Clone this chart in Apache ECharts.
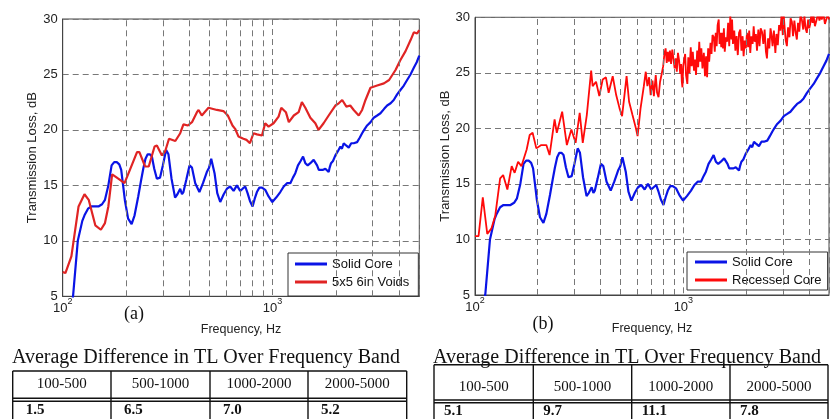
<!DOCTYPE html>
<html><head><meta charset="utf-8">
<script src="https://cdn.jsdelivr.net/npm/echarts@6/dist/echarts.min.js"></script>
<style>html,body{margin:0;padding:0;background:#fff}#c{width:832px;height:419px}</style>
</head><body><div id="c"></div>
<script>
// ---------------- DATA ----------------
const solidFreq = [108,112,118,124,127,132,137,148,154,159,165,171,176,181,186,190,194,198,205,213,220,229,236,242,248,254,260,266,273,281,291,300,311,319,330,343,352,363,370,376,388,402,413,428,448,466,486,498,510,529,545,563,585,606,628,652,676,701,720,741,760,780,803,822,842,865,890,922,957,997,1040,1088,1130,1171,1215,1250,1283,1321,1360,1397,1432,1470,1513,1569,1629,1660,1689,1740,1784,1850,1870,1899,1940,1991,2050,2104,2140,2182,2240,2305,2370,2435,2527,2600,2670,2750,2821,2930,3034,3150,3265,3400,3514,3650,3778,3920,4065,4220,4375,4540,4708,4860,5000];
const solidTL = [2.5,5.0,10.0,11.8,12.3,12.9,13.1,13.1,13.3,13.7,15.0,16.8,17.1,17.1,16.9,16.4,15.0,13.6,12.0,11.5,12.3,14.0,15.4,16.5,17.4,17.8,17.8,17.6,16.5,15.6,15.7,16.8,18.2,17.8,15.6,13.9,14.2,14.7,14.2,14.4,15.5,16.8,16.6,15.2,14.4,15.2,16.2,16.6,17.4,16.1,14.3,13.5,14.2,14.7,14.9,14.5,15.0,14.5,14.7,14.9,14.3,13.6,13.1,13.8,14.4,14.8,14.8,14.6,14.0,13.5,13.9,14.4,14.9,15.2,15.2,15.7,16.1,16.8,17.2,17.6,17.0,16.8,17.0,17.3,16.8,16.4,16.5,16.4,16.5,16.2,16.6,17.0,17.2,17.7,18.1,18.5,18.3,18.8,18.6,18.4,18.8,18.8,18.9,19.3,19.7,20.1,20.4,20.7,21.1,21.3,21.5,21.9,22.2,22.4,22.7,23.2,23.6,24.0,24.5,25.0,25.6,26.1,26.7];

const voidsFreq = [100,103,110,119,127,133,143,152,159,165,172,184,197,209,226,232,247,257,274,281,297,308,321,344,363,376,395,413,436,444,460,495,543,583,612,644,663,688,726,751,780,811,842,890,922,957,1011,1068,1100,1157,1195,1262,1331,1379,1432,1513,1598,1656,1750,1850,1991,2066,2146,2247,2344,2435,2573,2670,2771,2927,3150,3392,3590,3852,4065,4300,4545,4708,4883,5000];
const voidsTL = [7.2,7.1,8.6,13.1,14.2,13.7,11.4,11.0,11.6,13.1,16.0,15.6,15.2,16.4,18.0,18.0,16.7,16.7,18.5,18.6,17.7,18.1,19.2,19.0,19.7,20.5,20.4,20.7,21.6,21.8,21.3,22.0,21.8,21.7,21.3,20.4,20.1,19.4,19.2,19.1,18.8,19.7,19.6,19.5,20.6,20.3,20.6,21.2,22.0,21.6,20.7,21.3,21.6,22.5,22.0,21.1,20.6,20.0,20.6,21.3,22.2,22.4,22.7,22.1,22.2,21.8,21.3,21.8,22.7,23.8,24.0,24.2,24.5,25.4,26.3,27.1,28.1,28.8,28.7,29.0];

const recessedFreq = [100,104,109,114.5,120,125,132,136.5,143,150,155,161,167,177,183,189,197,208,220,228,241,247,262,276,290,304,318,329,344,361,367,381,395,410,425,438,458,476,494,508,521,534,549,570,592,603,623,646,660,672,685,697,711,722,737,748,760,773,787,800,812,822,832,842,852,862,873,885,897,908,919,930,942,954,966,975,983,990,998,1008,1020,1030,1045,1056,1070,1085,1097,1110,1125,1139,1150,1165,1178,1192,1205,1220,1235,1254,1270,1285,1300,1315,1330,1350,1365,1380,1400,1415,1430,1445,1460,1478,1492,1506,1520,1533,1550,1565,1580,1600,1620,1640,1660,1680,1700,1713,1730,1755,1777,1800,1825,1850,1877,1900,1925,1946,1970,1995,2020,2045,2070,2095,2120,2150,2175,2200,2230,2256,2290,2320,2350,2385,2420,2455,2490,2519,2550,2585,2620,2645,2680,2720,2764,2800,2840,2880,2920,2960,3000,3028,3070,3100,3140,3180,3230,3270,3318,3360,3410,3460,3505,3550,3600,3650,3704,3760,3810,3860,3913,3970,4020,4062,4120,4170,4212,4280,4366,4430,4500,4560,4613,4700,4780,4875,4940,5000];
const recessedTL = [10.3,10.3,13.8,10.5,11.0,12.1,15.5,15.8,14.5,16.6,16.0,17.0,16.6,18.1,19.4,19.6,18.2,18.5,18.5,17.6,20.8,19.6,21.5,18.5,19.9,18.7,21.4,18.7,21.2,25.2,23.8,24.2,22.9,24.4,24.6,23.2,24.7,23.0,21.8,21.1,22.9,24.7,22.4,21.2,20.0,19.3,21.8,23.8,25.1,23.8,24.6,23.0,24.3,22.9,24.8,23.2,22.8,24.2,24.9,25.6,26.8,27.2,25.9,26.9,26.0,27.0,25.8,27.1,26.2,25.4,26.3,25.1,26.8,26.1,24.9,25.8,24.2,23.7,25.6,25.5,26.7,24.8,24.0,26.4,25.0,27.3,25.6,26.9,25.2,26.2,24.8,27.0,25.5,27.8,26.0,27.2,25.4,26.8,24.7,26.5,24.6,27.2,26.0,27.7,26.7,28.4,28.2,26.9,28.6,27.4,29.3,29.8,27.6,28.6,27.3,28.6,27.2,29.0,26.9,28.2,27.8,29.5,27.4,30.2,28.0,29.8,27.6,28.8,27.0,28.3,26.6,28.6,28.9,27.0,28.3,26.5,27.9,27.2,28.6,27.3,28.8,26.8,28.3,27.6,29.2,27.8,28.5,27.0,28.9,27.4,29.0,28.7,27.6,28.9,26.9,26.3,28.1,27.2,29.0,28.5,27.4,28.8,26.8,28.5,27.5,29.3,28.8,30.2,28.4,30.3,28.8,27.9,27.4,29.1,28.2,29.9,29.6,28.3,29.7,28.6,28.0,29.5,28.7,30.2,29.8,28.9,30.1,29.0,28.6,29.8,29.0,29.4,30.3,29.5,30.2,29.2,29.2,30.3,29.7,30.4,29.8,30.3,29.4,29.5,30.3,29.8];

const minorGridFreqs = [200,300,400,500,600,700,800,900,2000,3000,4000];
const bandLabels = ['100-500','500-1000','1000-2000','2000-5000'];
const diffVoids = ['1.5','6.5','7.0','5.2'];
const diffRecessed = ['5.1','9.7','11.1','7.8'];
const tableTitle = 'Average Difference in TL Over Frequency Band';

// ---------------- CHART ----------------
const SANS = '"Liberation Sans", Arial, sans-serif';
const SERIF = '"Liberation Serif", "Times New Roman", serif';
const GRIDC = '#787878';
const BLUE = '#0a14e6';
const RED_A = '#e02424';
const RED_B = '#ff0a0a';

function pairs(xs, ys) { return xs.map((x, i) => [x, ys[i]]); }
function powLabel(v) {
  const e = Math.log10(v), r = Math.round(e);
  if (Math.abs(e - r) > 1e-6) return '';
  return '{b|10}{s|' + r + '}';
}
function xAxisCfg(gi) {
  return {
    type: 'log', logBase: 10, gridIndex: gi, min: 100, max: 5000,
    axisLine: { show: true, lineStyle: { color: '#444', width: 1 } },
    axisTick: { show: false },
    splitLine: { show: true, lineStyle: { color: GRIDC, type: [6, 4], width: 1 } },
    axisLabel: {
      formatter: powLabel, margin: 1, color: '#222', fontFamily: SANS,
      rich: {
        b: { fontSize: 13, fontFamily: SANS, color: '#222', lineHeight: 18, verticalAlign: 'bottom' },
        s: { fontSize: 9, fontFamily: SANS, color: '#222', lineHeight: 9, verticalAlign: 'top' }
      }
    },
    name: 'Frequency, Hz', nameLocation: 'middle', nameGap: 27,
    nameTextStyle: { fontFamily: SANS, fontSize: 12.5, color: '#222' }
  };
}
function yAxisCfg(gi) {
  return {
    type: 'value', gridIndex: gi, min: 5, max: 30, interval: 5,
    axisLine: { show: true, lineStyle: { color: '#444', width: 1 } },
    axisTick: { show: false },
    splitLine: { show: true, lineStyle: { color: GRIDC, type: [6, 4], width: 1 } },
    axisLabel: { margin: 5, color: '#222', fontFamily: SANS, fontSize: 13 },
    name: 'Transmission Loss, dB', nameLocation: 'middle', nameRotate: 90, nameGap: 23,
    nameTextStyle: { fontFamily: SANS, fontSize: 13, color: '#222' }
  };
}
function gridLinesSeries(gi) {
  return {
    type: 'line', name: 'grid' + gi, xAxisIndex: gi, yAxisIndex: gi, data: [], z: 1,
    silent: true, animation: false,
    markLine: {
      silent: true, animation: false, symbol: ['none', 'none'],
      label: { show: false },
      lineStyle: { color: GRIDC, type: [6, 4], width: 1 },
      emphasis: { disabled: true },
      data: minorGridFreqs.map(f => ({ xAxis: f }))
    }
  };
}
function lineSeries(name, gi, xs, ys, color, width) {
  return {
    type: 'line', name: name, xAxisIndex: gi, yAxisIndex: gi,
    data: pairs(xs, ys), showSymbol: false, symbol: 'none', z: 3,
    lineStyle: { color: color, width: width }, itemStyle: { color: color },
    animation: false, clip: true
  };
}

// tables via graphic
function tableGraphic(t, values) {
  const els = [];
  const lw = 1.4;
  els.push({ type: 'text', silent: true, style: { text: tableTitle, x: t.titleX, y: t.titleY, font: '20px ' + SERIF, fill: '#111', align: 'left', verticalAlign: 'middle', textAlign: 'left', textVerticalAlign: 'middle' } });
  els.push({ type: 'line', silent: true, shape: { x1: t.x0, y1: t.top, x2: t.x1, y2: t.top }, style: { stroke: '#111', lineWidth: lw } });
  els.push({ type: 'line', silent: true, shape: { x1: t.x0, y1: t.d1, x2: t.x1, y2: t.d1 }, style: { stroke: '#111', lineWidth: lw } });
  els.push({ type: 'line', silent: true, shape: { x1: t.x0, y1: t.d2, x2: t.x1, y2: t.d2 }, style: { stroke: '#111', lineWidth: lw } });
  const xs = [t.x0].concat(t.cols).concat([t.x1]);
  xs.forEach(x => els.push({ type: 'line', silent: true, shape: { x1: x, y1: t.top, x2: x, y2: 430 }, style: { stroke: '#111', lineWidth: lw } }));
  for (let i = 0; i < 4; i++) {
    const cx = (xs[i] + xs[i + 1]) / 2;
    els.push({ type: 'text', silent: true, style: { text: bandLabels[i], x: cx, y: t.headY, font: '15px ' + SERIF, fill: '#111', align: 'center', verticalAlign: 'middle', textAlign: 'center', textVerticalAlign: 'middle' } });
    els.push({ type: 'text', silent: true, style: { text: values[i], x: xs[i] + t.valOff, y: t.valY, font: 'bold 15px ' + SERIF, fill: '#111', align: 'left', verticalAlign: 'top', textAlign: 'left', textVerticalAlign: 'top' } });
  }
  return els;
}

const graphics = []
  .concat(tableGraphic({ titleX: 12, titleY: 358, x0: 12.7, x1: 406.7, cols: [111, 210, 308], top: 371, d1: 398.3, d2: 401.3, headY: 384, valY: 403, valOff: 13 }, diffVoids))
  .concat(tableGraphic({ titleX: 433, titleY: 357.5, x0: 434, x1: 828, cols: [533.3, 631.7, 730], top: 364.7, d1: 400, d2: 402.7, headY: 387.5, valY: 404, valOff: 10 }, diffRecessed))
  .concat([
    { type: 'text', silent: true, style: { text: '(a)', x: 134, y: 314, font: '18px ' + SERIF, fill: '#111', align: 'center', verticalAlign: 'middle', textAlign: 'center', textVerticalAlign: 'middle' } },
    { type: 'text', silent: true, style: { text: '(b)', x: 543, y: 324, font: '18px ' + SERIF, fill: '#111', align: 'center', verticalAlign: 'middle', textAlign: 'center', textVerticalAlign: 'middle' } }
  ]);

const legendBase = {
  orient: 'vertical', icon: 'rect', itemWidth: 32, itemHeight: 3, itemGap: 2,
  borderColor: '#333', borderWidth: 1, backgroundColor: '#fff', borderRadius: 0,
  textStyle: { fontFamily: SANS, fontSize: 13, color: '#111', lineHeight: 16 },
  selectedMode: false
};

const chart = echarts.init(document.getElementById('c'));
chart.setOption({
  animation: false,
  backgroundColor: '#fff',
  grid: [
    { left: 62.7, top: 19, width: 356.6, height: 277.3, show: true, borderColor: '#444', borderWidth: 1, backgroundColor: 'transparent', containLabel: false },
    { left: 475, top: 17.3, width: 355.7, height: 277.7, show: true, borderColor: '#444', borderWidth: 1, backgroundColor: 'transparent', containLabel: false }
  ],
  xAxis: [xAxisCfg(0), xAxisCfg(1)],
  yAxis: [yAxisCfg(0), yAxisCfg(1)],
  legend: [
    Object.assign({}, legendBase, { left: 288, top: 253, padding: [3, 9, 6, 7], data: ['Solid Core', '5x5 6in Voids'] }),
    Object.assign({}, legendBase, { left: 687, top: 252, padding: [2, 6, 2, 8], data: ['Solid Core', 'Recessed Core'] })
  ],
  series: [
    gridLinesSeries(0),
    gridLinesSeries(1),
    lineSeries('Solid Core', 0, solidFreq, solidTL, BLUE, 2.2),
    lineSeries('5x5 6in Voids', 0, voidsFreq, voidsTL, RED_A, 2.2),
    lineSeries('Solid Core', 1, solidFreq, solidTL, BLUE, 2.2),
    lineSeries('Recessed Core', 1, recessedFreq, recessedTL, RED_B, 1.8)
  ],
  graphic: graphics
});
</script>
</body></html>
